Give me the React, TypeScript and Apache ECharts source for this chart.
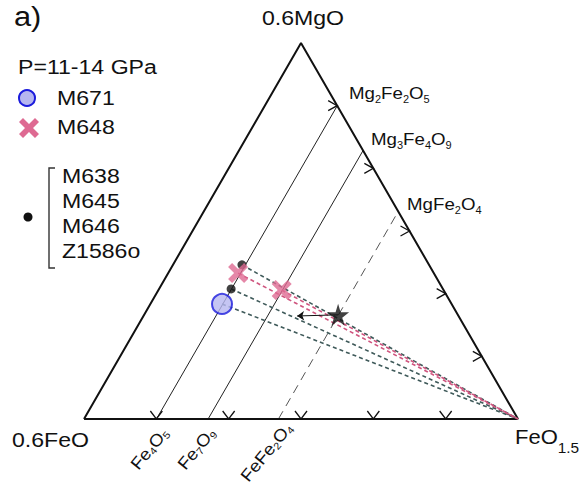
import React, { useEffect, useRef } from "react";
import * as echarts from "echarts";

const H = Math.sqrt(3) / 2;

// Ternary coordinates: [FeO1.5 fraction, 0.6MgO fraction]
const M671Points: number[][] = [[0.165, 0.306]];
const M648Points: number[][] = [[0.161, 0.388], [0.284, 0.343]];
const otherPoints: number[][] = [[0.159, 0.41], [0.166, 0.346]];
const starPoint: number[] = [0.447, 0.277];
const arrowEnd: number[] = [0.354, 0.274];
const feO15Corner: number[] = [1, 0];

const tieFeO15: number[] = [0.167, 0.286, 0.448];
const tieDashed: boolean[] = [false, false, true];
const tickFractions: number[] = [0.1667, 0.3333, 0.5, 0.6667, 0.8333];

const triangle: number[][] = [[0, 0], [0, 1], [1, 0], [0, 0]];

const toXY = (p: number[]) => [p[0] + p[1] / 2, p[1] * H];

const FONT = "'Liberation Sans', Arial, Helvetica, sans-serif";
const SX = 1.1;
const INK = "#111";
const PINK = "#de6a92";
const PINK_LINE = "#cf557f";
const DARK_LINE = "#3f5a5a";

const STAR =
  "path://M50,0 L61,35 L98,35 L68,57 L79,91 L50,70 L21,91 L32,57 L2,35 L39,35 Z";
const CROSS =
  "path://M0,20 L20,0 L50,30 L80,0 L100,20 L70,50 L100,80 L80,100 L50,70 L20,100 L0,80 L30,50 Z";

const subRich = (size: number, sub: number, pad: number) => ({
  s: { fontSize: sub, fontFamily: FONT, fill: INK, padding: [pad, 0, 0, 0] },
  m: { fontSize: size, fontFamily: FONT, fill: INK },
});

function txt(
  text: string,
  x: number,
  y: number,
  fontSize: number,
  opts: { align?: string; rotation?: number; rich?: any; sx?: number } = {}
) {
  return {
    type: "text",
    x,
    y,
    scaleX: opts.sx ?? SX,
    rotation: opts.rotation || 0,
    silent: true,
    style: {
      text,
      fontSize,
      fontFamily: FONT,
      fill: INK,
      align: opts.align || "left",
      verticalAlign: "middle",
      rich: opts.rich,
    },
  };
}

const ROT = 0.88;

export default function App() {
  const ref = useRef<HTMLDivElement>(null);
  useEffect(() => {
    if (!ref.current) return;
    const chart = echarts.init(ref.current, null, { renderer: "svg" });

    const series: any[] = [];
    series.push({
      type: "line",
      data: triangle.map(toXY),
      symbol: "none",
      silent: true,
      lineStyle: { color: INK, width: 2 },
      z: 3,
    });
    tieFeO15.forEach((b, i) => {
      series.push({
        type: "line",
        data: [toXY([b, 0]), toXY([b, 1 - b])],
        symbol: "none",
        silent: true,
        lineStyle: tieDashed[i]
          ? { color: "#555", width: 1, type: [9, 6] }
          : { color: "#222", width: 1 },
        z: 2,
      });
    });
    const tickData: number[][] = [];
    tickFractions.forEach((f) => {
      const pb = toXY([f, 0]);
      tickData.push([pb[0], pb[1], 0]);
      const pr = toXY([1 - f, f]);
      tickData.push([pr[0], pr[1], 1]);
    });
    series.push({
      type: "custom",
      data: tickData,
      silent: true,
      z: 4,
      renderItem: (_p: any, api: any) => {
        const c = api.coord([api.value(0), api.value(1)]);
        const kind = api.value(2);
        const pts =
          kind === 0
            ? [[c[0] - 6, c[1] - 8], [c[0], c[1]], [c[0] + 6, c[1] - 8]]
            : [[c[0] - 9, c[1] - 5], [c[0], c[1]], [c[0] - 9, c[1] + 5]];
        return {
          type: "polyline",
          shape: { points: pts },
          style: { stroke: INK, lineWidth: 1.3, fill: "none" },
        };
      },
    });
    const addTie = (p: number[], color: string) =>
      series.push({
        type: "line",
        data: [toXY(p), toXY(feO15Corner)],
        symbol: "none",
        silent: true,
        lineStyle: { color, width: 1.6, type: [4, 3] },
        z: 5,
      });
    otherPoints.forEach((p) => addTie(p, DARK_LINE));
    M671Points.forEach((p) => addTie(p, DARK_LINE));
    M648Points.forEach((p) => addTie(p, PINK_LINE));

    series.push({
      type: "lines",
      coordinateSystem: "cartesian2d",
      data: [{ coords: [toXY(starPoint), toXY(arrowEnd)] }],
      symbol: ["none", "arrow"],
      symbolSize: 7,
      silent: true,
      lineStyle: { color: INK, width: 1, opacity: 1 },
      z: 6,
    });
    series.push({
      type: "scatter",
      data: otherPoints.map(toXY),
      symbol: "circle",
      symbolSize: 9,
      itemStyle: { color: INK },
      silent: true,
      z: 7,
    });
    series.push({
      type: "scatter",
      data: M671Points.map(toXY),
      symbol: "circle",
      symbolSize: 20,
      itemStyle: { color: "#b6b6f0", borderColor: "#1c1cdc", borderWidth: 2 },
      silent: true,
      z: 8,
    });
    series.push({
      type: "scatter",
      data: M648Points.map(toXY),
      symbol: CROSS,
      symbolSize: 20,
      itemStyle: { color: PINK },
      silent: true,
      z: 9,
    });
    series.push({
      type: "scatter",
      data: [toXY(starPoint)],
      symbol: STAR,
      symbolSize: 22,
      itemStyle: { color: INK },
      silent: true,
      z: 9,
    });

    const r17 = subRich(17, 10, 12);
    const rRot = subRich(17, 10, 8);
    const graphic: any[] = [
      txt("a)", 14, 16, 28),
      txt("0.6MgO", 303, 18, 21, { align: "center" }),
      txt("P=11-14 GPa", 18, 67, 21),
      {
        type: "circle",
        shape: { cx: 27, cy: 98, r: 8 },
        style: { fill: "#b6b6f0", stroke: "#1c1cdc", lineWidth: 2 },
        silent: true,
      },
      txt("M671", 57, 98, 21),
      {
        type: "polygon",
        x: 29,
        y: 128,
        shape: {
          points: [
            [-10, -6], [-6, -10], [0, -4], [6, -10], [10, -6], [4, 0],
            [10, 6], [6, 10], [0, 4], [-6, 10], [-10, 6], [-4, 0],
          ],
        },
        style: { fill: PINK },
        silent: true,
      },
      txt("M648", 57, 127, 21),
      {
        type: "polyline",
        shape: { points: [[55, 168], [49, 168], [49, 268], [55, 268]] },
        style: { stroke: "#333", lineWidth: 1.4, fill: "none" },
        silent: true,
      },
      {
        type: "circle",
        shape: { cx: 28, cy: 217, r: 4.5 },
        style: { fill: INK },
        silent: true,
      },
      txt("M638", 62, 176, 21),
      txt("M645", 62, 201, 21),
      txt("M646", 62, 226, 21),
      txt("Z1586o", 62, 251, 21),
      txt("{m|Mg}{s|2}{m|Fe}{s|2}{m|O}{s|5}", 349, 93, 17, { rich: r17 }),
      txt("{m|Mg}{s|3}{m|Fe}{s|4}{m|O}{s|9}", 371, 139, 17, { rich: r17 }),
      txt("{m|MgFe}{s|2}{m|O}{s|4}", 407, 204, 17, { rich: r17 }),
      txt("0.6FeO", 12, 440, 21),
      txt("{m|FeO}{s|1.5}", 515, 437, 20, { rich: subRich(20, 14, 22) }),
      txt("{m|Fe}{s|4}{m|O}{s|5}", 165, 430, 17, {
        align: "right",
        rotation: ROT,
        rich: rRot,
      }),
      txt("{m|Fe}{s|7}{m|O}{s|9}", 212, 430, 17, {
        align: "right",
        rotation: ROT,
        rich: rRot,
      }),
      txt("{m|FeFe}{s|2}{m|O}{s|4}", 289, 425, 17, {
        align: "right",
        rotation: ROT,
        rich: rRot,
      }),
    ];

    chart.setOption({
      animation: false,
      backgroundColor: "#ffffff",
      grid: { left: 84, top: 43, width: 434, height: 376, containLabel: false },
      xAxis: { type: "value", min: 0, max: 1, show: false },
      yAxis: { type: "value", min: 0, max: H, show: false },
      series,
      graphic,
    });
    return () => chart.dispose();
  }, []);
  return (
    <div
      ref={ref}
      style={{ position: "absolute", left: 0, top: 0, width: 586, height: 487 }}
    />
  );
}
